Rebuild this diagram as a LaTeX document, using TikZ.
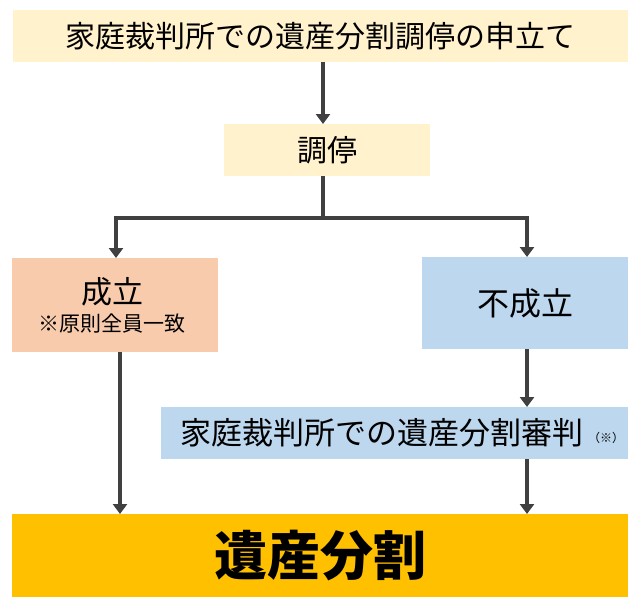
\documentclass[tikz,border=0pt]{standalone}
\usepackage{fontspec}
\setmainfont{Noto Sans CJK JP}
\usetikzlibrary{arrows.meta}
\definecolor{ylw}{HTML}{FFF2CC}
\definecolor{org}{HTML}{F8CBAD}
\definecolor{blu}{HTML}{BDD7EE}
\definecolor{gld}{HTML}{FFC000}
\definecolor{arr}{HTML}{404040}
\begin{document}
\begin{tikzpicture}[x=1pt,y=-1pt,
  box/.style={draw=none,inner sep=0pt,outer sep=0pt},
  con/.style={draw=arr,line width=3.5pt,-{Triangle[length=10pt,width=14pt]}},
  ln/.style={draw=arr,line width=3.5pt}]
\useasboundingbox (0,0) rectangle (640,606);
\node[box,fill=ylw,minimum width=615pt,minimum height=52pt,font=\fontsize{30}{34}\selectfont] (top) at (320.5,36) {家庭裁判所での遺産分割調停の申立て};
\node[box,fill=ylw,minimum width=206pt,minimum height=52pt,font=\fontsize{30}{34}\selectfont] (med) at (327,150) {調停};
\node[box,fill=org,minimum width=206pt,minimum height=94pt] (ok) at (115,305) {};
\node[font=\fontsize{31}{34}\selectfont] (okt) at (112,292) {成立};
\node[font=\fontsize{21}{24}\selectfont] (okn) at (112,324) {※原則全員一致};
\node[box,fill=blu,minimum width=206pt,minimum height=92pt,font=\fontsize{32}{36}\selectfont] (ng) at (525,303) {不成立};
\node[box,fill=blu,minimum width=467pt,minimum height=52pt] (jud) at (394.5,433) {};
\node[font=\fontsize{31}{34}\selectfont,anchor=east,inner sep=0pt] (judt) at (584,433) {家庭裁判所での遺産分割審判};
\node[font=\fontsize{12}{14}\selectfont,anchor=west,inner sep=0pt] (judn) at (588,438) {（※）};
\node[box,fill=gld,minimum width=616pt,minimum height=83pt,font=\fontsize{53}{60}\selectfont\bfseries] (res) at (320,555.5) {遺産分割};
\coordinate (j) at (323,218);
\coordinate (jl) at (116,218);
\coordinate (jr) at (527,218);
\draw[con] (top.south -| j) -- (med.north -| j);
\draw[ln] (med.south -| j) -- (j);
\draw[con] (j) -- (jl) -- (jl |- ok.north);
\draw[con] (j) -- (jr) -- (jr |- ng.north);
\draw[con] (jr |- ng.south) -- (jr |- jud.north);
\draw[con] (120,352) -- (120,514);
\draw[con] (jr |- jud.south) -- (jr |- res.north);
\end{tikzpicture}
\end{document}
